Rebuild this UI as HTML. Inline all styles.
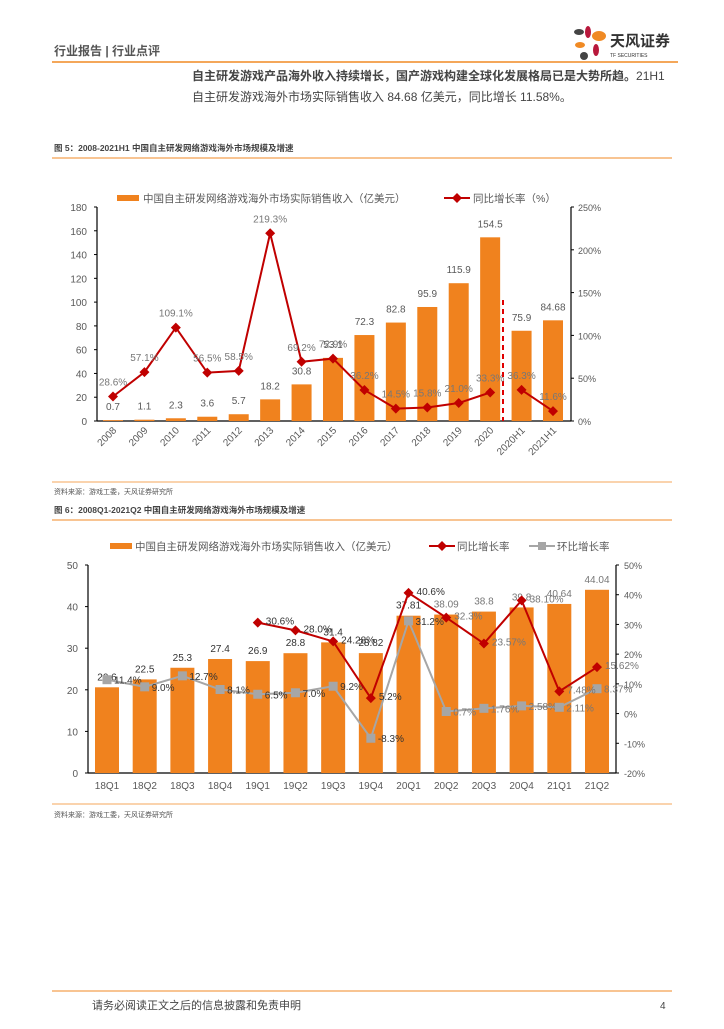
<!DOCTYPE html>
<html><head><meta charset="utf-8"><style>
body{margin:0;background:#fff;font-family:"Liberation Sans","Noto Sans CJK SC",sans-serif;}
svg text{font-family:"Liberation Sans","Noto Sans CJK SC",sans-serif;}
</style></head><body>
<svg width="724" height="1024" viewBox="0 0 724 1024" xmlns="http://www.w3.org/2000/svg">
<g>
<text x="54" y="55" font-size="12" fill="#555" font-weight="bold">行业报告 | 行业点评</text>
<line x1="52" y1="62" x2="678" y2="62" stroke="#F08A24" stroke-width="1.5"/>
<g>
<ellipse cx="579" cy="32" rx="5" ry="3" fill="#444"/>
<ellipse cx="588" cy="32" rx="3" ry="6" fill="#B8183C"/>
<ellipse cx="599" cy="36" rx="7" ry="5" fill="#F08A24"/>
<ellipse cx="580" cy="45" rx="5" ry="3" fill="#F08A24"/>
<ellipse cx="596" cy="50" rx="3" ry="6" fill="#B8183C"/>
<ellipse cx="584" cy="56" rx="4" ry="4" fill="#444"/>
<text x="610" y="46" font-size="15" font-weight="bold" fill="#333">天风证券</text>
<text x="610" y="57" font-size="5" fill="#333">TF SECURITIES</text>
</g>
</g>
<text x="192" y="80" font-size="12" fill="#444"><tspan font-weight="bold">自主研发游戏产品海外收入持续增长，国产游戏构建全球化发展格局已是大势所趋。</tspan>21H1</text>
<text x="192" y="101" font-size="12" fill="#444">自主研发游戏海外市场实际销售收入 84.68 亿美元，同比增长 11.58%。</text>

<text x="54" y="151" font-size="8.5" font-weight="bold" fill="#444">图 5：2008-2021H1 中国自主研发网络游戏海外市场规模及增速</text>
<line x1="52" y1="158" x2="672" y2="158" stroke="#F08A24" stroke-width="1"/>
<g id="c1"></g>
<line x1="52" y1="482" x2="672" y2="482" stroke="#F08A24" stroke-width="0.8"/>
<text x="54" y="494" font-size="7" fill="#555">资料来源：游戏工委，天风证券研究所</text>

<text x="54" y="513" font-size="8.5" font-weight="bold" fill="#444">图 6：2008Q1-2021Q2 中国自主研发网络游戏海外市场规模及增速</text>
<line x1="52" y1="520" x2="672" y2="520" stroke="#F08A24" stroke-width="1"/>
<g id="c2"></g>
<line x1="52" y1="804" x2="672" y2="804" stroke="#F08A24" stroke-width="0.8"/>
<text x="54" y="817" font-size="7" fill="#555">资料来源：游戏工委，天风证券研究所</text>

<line x1="52" y1="991" x2="672" y2="991" stroke="#F08A24" stroke-width="1"/>
<text x="92" y="1009" font-size="11" fill="#444">请务必阅读正文之后的信息披露和免责申明</text>
<text x="660" y="1009" font-size="10" fill="#444">4</text>
</svg>
<script>
const cats1=["2008","2009","2010","2011","2012","2013","2014","2015","2016","2017","2018","2019","2020","2020H1","2021H1"];
const rev1=[0.7,1.1,2.3,3.6,5.7,18.2,30.8,53.1,72.3,82.8,95.9,115.9,154.5,75.9,84.68];
const revLbl1=["0.7","1.1","2.3","3.6","5.7","18.2","30.8","53.1","72.3","82.8","95.9","115.9","154.5","75.9","84.68"];
const yoy1=[28.6,57.1,109.1,56.5,58.5,219.3,69.2,72.9,36.2,14.5,15.8,21.0,33.3,36.3,11.6];
const yoyLbl1=["28.6%","57.1%","109.1%","56.5%","58.5%","219.3%","69.2%","72.9%","36.2%","14.5%","15.8%","21.0%","33.3%","36.3%","11.6%"];
const leftTicks1=[0,20,40,60,80,100,120,140,160,180];
const rightTicks1=[0,50,100,150,200,250];

const cats2=["18Q1","18Q2","18Q3","18Q4","19Q1","19Q2","19Q3","19Q4","20Q1","20Q2","20Q3","20Q4","21Q1","21Q2"];
const rev2=[20.6,22.5,25.3,27.4,26.9,28.8,31.4,28.82,37.81,38.09,38.8,39.8,40.64,44.04];
const revLbl2=["20.6","22.5","25.3","27.4","26.9","28.8","31.4","28.82","37.81","38.09","38.8","39.8","40.64","44.04"];
const yoy2=[null,null,null,null,30.6,28.0,24.28,5.2,40.6,32.3,23.57,38.10,7.48,15.62];
const yoyLbl2=["","","","","30.6%","28.0%","24.28%","5.2%","40.6%","32.3%","23.57%","38.10%","7.48%","15.62%"];
const qoq2=[11.4,9.0,12.7,8.1,6.5,7.0,9.2,-8.3,31.2,0.7,1.76,2.58,2.11,8.37];
const qoqLbl2=["11.4%","9.0%","12.7%","8.1%","6.5%","7.0%","9.2%","-8.3%","31.2%","0.7%","1.76%","2.58%","2.11%","8.37%"];
const leftTicks2=[0,10,20,30,40,50];
const rightTicks2=[-20,-10,0,10,20,30,40,50];

const NS="http://www.w3.org/2000/svg";
function mk(p,tag,a,txt){const e=document.createElementNS(NS,tag);for(const k in a)e.setAttribute(k,a[k]);if(txt!==undefined)e.textContent=txt;p.appendChild(e);return e;}
const ORANGE="#F0821E",RED="#C00000",GRAY="#A6A6A6",TXT="#595959";

// Chart 1
(function(){
const g=document.getElementById('c1');
const L=97,R=571,T=207,B=421;
const y=v=>B-(v/180)*(B-T);
const yr=v=>B-(v/250)*(B-T);
const x0=113,dx=(553-113)/14;const x=i=>x0+i*dx;
mk(g,'line',{x1:L,y1:T,x2:L,y2:B,stroke:'#000','stroke-width':1.2});
mk(g,'line',{x1:R,y1:T,x2:R,y2:B,stroke:'#000','stroke-width':1.2});
mk(g,'line',{x1:L,y1:B,x2:R,y2:B,stroke:'#000','stroke-width':1.2});
leftTicks1.forEach(v=>{mk(g,'line',{x1:L-3,y1:y(v),x2:L,y2:y(v),stroke:'#000'});
const t=mk(g,'text',{x:L-10,y:y(v)+4,'font-size':10,fill:TXT,'text-anchor':'end'},String(v));

});
rightTicks1.forEach(v=>{mk(g,'line',{x1:R,y1:yr(v),x2:R+3,y2:yr(v),stroke:'#000'});
const t=mk(g,'text',{x:R+7,y:yr(v)+4,'font-size':9,fill:TXT},v+'%');

});
rev1.forEach((v,i)=>{const r=mk(g,'rect',{x:x(i)-10,y:y(v),width:20,height:B-y(v),fill:ORANGE});


const t=mk(g,'text',{x:x(i),y:y(v)-10,'font-size':10,fill:TXT,'text-anchor':'middle'},revLbl1[i]);


const c=mk(g,'text',{x:0,y:0,'font-size':10,fill:TXT,'text-anchor':'end',transform:`translate(${x(i)+4},${B+10}) rotate(-45)`},cats1[i]);

});
mk(g,'line',{x1:503,y1:300,x2:503,y2:B,stroke:'#E00000','stroke-width':2,'stroke-dasharray':'5,4'});
const seg=(a,b)=>yoy1.slice(a,b).map((v,k)=>x(a+k)+','+yr(v)).join(' ');
const p1=mk(g,'polyline',{points:seg(0,13),fill:'none',stroke:RED,'stroke-width':2});


const p2=mk(g,'polyline',{points:seg(13,15),fill:'none',stroke:RED,'stroke-width':2});


yoy1.forEach((v,i)=>{const d=mk(g,'path',{d:`M${x(i)},${yr(v)-5}l5,5l-5,5l-5,-5z`,fill:RED});


const t=mk(g,'text',{x:x(i),y:yr(v)-11,'font-size':10,fill:'#777','text-anchor':'middle'},yoyLbl1[i]);

});
const lg=mk(g,'g',{});


mk(lg,'rect',{x:117,y:195,width:22,height:6,fill:ORANGE});
mk(lg,'text',{x:143,y:202,'font-size':10.5,fill:TXT},'中国自主研发网络游戏海外市场实际销售收入（亿美元）');
mk(lg,'line',{x1:444,y1:198,x2:470,y2:198,stroke:RED,'stroke-width':2});
mk(lg,'path',{d:'M457,193l5,5l-5,5l-5,-5z',fill:RED});
mk(lg,'text',{x:473,y:202,'font-size':10.5,fill:TXT},'同比增长率（%）');
})();

// Chart 2
(function(){
const g=document.getElementById('c2');
const L=88,R=616,T=565,B=773;
const y=v=>B-(v/50)*(B-T);
const yr=v=>B-((v+20)/70)*(B-T);
const x0=107,dx=(597-107)/13;const x=i=>x0+i*dx;
mk(g,'line',{x1:L,y1:T,x2:L,y2:B,stroke:'#000','stroke-width':1.2});
mk(g,'line',{x1:R,y1:T,x2:R,y2:B,stroke:'#000','stroke-width':1.2});
mk(g,'line',{x1:L,y1:B,x2:R,y2:B,stroke:'#000','stroke-width':1.2});
leftTicks2.forEach(v=>{mk(g,'line',{x1:L-3,y1:y(v),x2:L,y2:y(v),stroke:'#000'});
const t=mk(g,'text',{x:L-10,y:y(v)+4,'font-size':10,fill:TXT,'text-anchor':'end'},String(v));

});
rightTicks2.forEach(v=>{mk(g,'line',{x1:R,y1:yr(v),x2:R+3,y2:yr(v),stroke:'#000'});
const t=mk(g,'text',{x:R+8,y:yr(v)+4,'font-size':9,fill:TXT},v+'%');

});
rev2.forEach((v,i)=>{const r=mk(g,'rect',{x:x(i)-12,y:y(v),width:24,height:B-y(v),fill:ORANGE});


const t=mk(g,'text',{x:x(i),y:y(v)-7,'font-size':10,fill:i>=9?'#777':'#333','text-anchor':'middle'},revLbl2[i]);


const c=mk(g,'text',{x:x(i),y:B+16,'font-size':10,fill:TXT,'text-anchor':'middle'},cats2[i]);

});
const qp=mk(g,'polyline',{points:qoq2.map((v,i)=>x(i)+','+yr(v)).join(' '),fill:'none',stroke:GRAY,'stroke-width':2});


qoq2.forEach((v,i)=>{const s=mk(g,'rect',{x:x(i)-4.5,y:yr(v)-4.5,width:9,height:9,fill:GRAY});


const t=mk(g,'text',{x:x(i)+7,y:yr(v)+4,'font-size':10,fill:i>=9?'#777':'#333'},qoqLbl2[i]);

});
const yi=yoy2.map((v,i)=>v===null?null:i).filter(i=>i!==null);
const yp=mk(g,'polyline',{points:yi.map(i=>x(i)+','+yr(yoy2[i])).join(' '),fill:'none',stroke:RED,'stroke-width':2});


yi.forEach(i=>{const v=yoy2[i];const d=mk(g,'path',{d:`M${x(i)},${yr(v)-5}l5,5l-5,5l-5,-5z`,fill:RED});


const t=mk(g,'text',{x:x(i)+8,y:yr(v)+2,'font-size':10,fill:i>=9?'#777':'#333'},yoyLbl2[i]);

});
const lg=mk(g,'g',{});


mk(lg,'rect',{x:110,y:543,width:22,height:6,fill:ORANGE});
mk(lg,'text',{x:135,y:550,'font-size':10.5,fill:TXT},'中国自主研发网络游戏海外市场实际销售收入（亿美元）');
mk(lg,'line',{x1:429,y1:546,x2:455,y2:546,stroke:RED,'stroke-width':2});
mk(lg,'path',{d:'M442,541l5,5l-5,5l-5,-5z',fill:RED});
mk(lg,'text',{x:457,y:550,'font-size':10.5,fill:TXT},'同比增长率');
mk(lg,'line',{x1:529,y1:546,x2:555,y2:546,stroke:GRAY,'stroke-width':2});
mk(lg,'rect',{x:538,y:542,width:8,height:8,fill:GRAY});
mk(lg,'text',{x:557,y:550,'font-size':10.5,fill:TXT},'环比增长率');
})();
</script>
</body></html>
